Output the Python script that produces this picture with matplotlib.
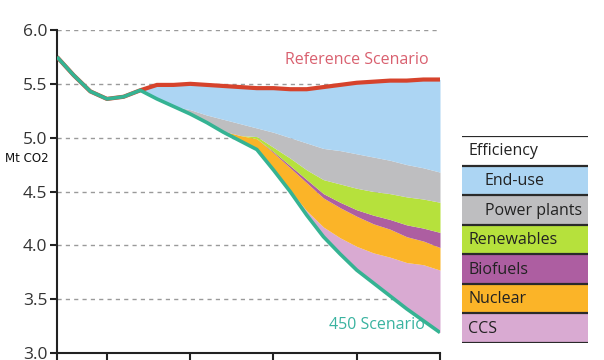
import matplotlib
matplotlib.use("Agg")
import matplotlib.pyplot as plt
from matplotlib.patches import Rectangle
import numpy as np

plt.rcParams['font.family'] = ['Open Sans', 'DejaVu Sans']

# data (Gt shown as "Mt CO2")
years = list(range(2007, 2031))
reference = [5.75, 5.58, 5.43, 5.36, 5.38, 5.44, 5.49, 5.49, 5.50, 5.49, 5.48, 5.47,
             5.46, 5.46, 5.45, 5.45, 5.47, 5.49, 5.51, 5.52, 5.53, 5.53, 5.54, 5.54]
scenario_450 = [5.75, 5.58, 5.43, 5.36, 5.38, 5.44, 5.36, 5.29, 5.22, 5.14, 5.05, 4.97,
                4.89, 4.70, 4.50, 4.28, 4.08, 3.92, 3.77, 3.65, 3.53, 3.41, 3.30, 3.19]
ccs = [0]*14 + [0.01, 0.04, 0.09, 0.15, 0.22, 0.28, 0.36, 0.43, 0.52, 0.58]
nuclear = [0]*10 + [0.01, 0.05, 0.10, 0.16, 0.21, 0.26, 0.27, 0.28, 0.28, 0.27, 0.26, 0.24, 0.22, 0.21]
biofuels = [0]*13 + [0.01, 0.02, 0.03, 0.04, 0.05, 0.06, 0.08, 0.09, 0.11, 0.12, 0.14]
renewables = [0]*12 + [0.02, 0.04, 0.07, 0.09, 0.13, 0.17, 0.20, 0.22, 0.24, 0.26, 0.27, 0.28]
power_plants = [0]*8 + [0.04, 0.07, 0.11, 0.11, 0.08, 0.14, 0.19, 0.25, 0.29, 0.31,
                        0.32, 0.32, 0.31, 0.30, 0.29, 0.28]
x_ticks = [2007, 2010, 2015, 2020, 2025, 2030]
y_ticks = [3.0, 3.5, 4.0, 4.5, 5.0, 5.5, 6.0]

legend_labels = ["Efficiency", "End-use", "Power plants", "Renewables", "Biofuels", "Nuclear", "CCS"]
colors = {"End-use": "#acd5f3", "Power plants": "#bebec0", "Renewables": "#b6e13c",
          "Biofuels": "#ad5ea1", "Nuclear": "#fbb428", "CCS": "#d9aad2"}

fig = plt.figure(figsize=(6.04, 3.6), dpi=100)
ax = fig.add_axes([57/604, 7/360, 383/604, 323/360])

# stacked wedges on top of the 450 line; end-use fills up to the reference line
base = np.array(scenario_450)
end_use = np.array(reference) - base - np.array(ccs) - np.array(nuclear) \
    - np.array(biofuels) - np.array(renewables) - np.array(power_plants)
layers = [("CCS", ccs), ("Nuclear", nuclear), ("Biofuels", biofuels),
          ("Renewables", renewables), ("Power plants", power_plants), ("End-use", end_use)]
bottom = base.copy()
for name, vals in layers:
    top = bottom + np.array(vals)
    ax.fill_between(years, bottom, top, color=colors[name], linewidth=0, zorder=2)
    bottom = top

ax.plot(years, reference, color="#d6432c", lw=3, zorder=4, solid_capstyle='butt')
ax.plot(years, scenario_450, color="#35b393", lw=2.6, zorder=4, solid_capstyle='butt')

ax.text(2025.0, 5.72, "Reference Scenario", color="#d9606f", fontsize=11.5,
        ha='center', va='center')
ax.text(2026.2, 3.26, "450 Scenario", color="#3ab3a0", fontsize=11.5,
        ha='center', va='center')

ax.set_xlim(2007, 2030)
ax.set_ylim(3.0, 6.0)
ax.set_xticks(x_ticks)
ax.set_xticklabels([])
ax.set_yticks(y_ticks)
ax.set_yticklabels(["%.1f" % v for v in y_ticks], fontsize=12.5, color="#333333")
for v in y_ticks[1:]:
    ax.axhline(v, color="#9a9a9a", lw=1, ls=(0, (3, 3)), zorder=1)
ax.spines['top'].set_visible(False)
ax.spines['right'].set_visible(False)
for s in ['left', 'bottom']:
    ax.spines[s].set_linewidth(1.5)
    ax.spines[s].set_color("#222222")
ax.tick_params(axis='both', direction='out', length=5, width=1.5, color="#222222")
ax.tick_params(axis='y', pad=2)

fig.text(5/604, 1 - 158/360, "Mt CO2", fontsize=8.5, fontfamily='DejaVu Sans',
         color="#111111", va='center', ha='left')

# legend table
lax = fig.add_axes([462/604, 17/360, 126/604, 207/360])
lax.set_xlim(0, 1)
lax.set_ylim(0, 7)
lax.axis('off')
for i, name in enumerate(legend_labels):
    y0 = 6 - i
    face = colors.get(name, "white")
    lax.add_patch(Rectangle((0, y0), 1, 1, facecolor=face, edgecolor='none'))
    lax.plot([0, 1], [y0 + 1, y0 + 1], color="#2a2a2a", lw=1.6)
    indent = 0.18 if name in ("End-use", "Power plants") else 0.05
    lax.text(indent, y0 + 0.48, name, fontsize=11.5, color="#222222",
             va='center', ha='left')
lax.plot([0, 1], [0, 0], color="#2a2a2a", lw=1.6)

fig.savefig("out.png", dpi=100)
